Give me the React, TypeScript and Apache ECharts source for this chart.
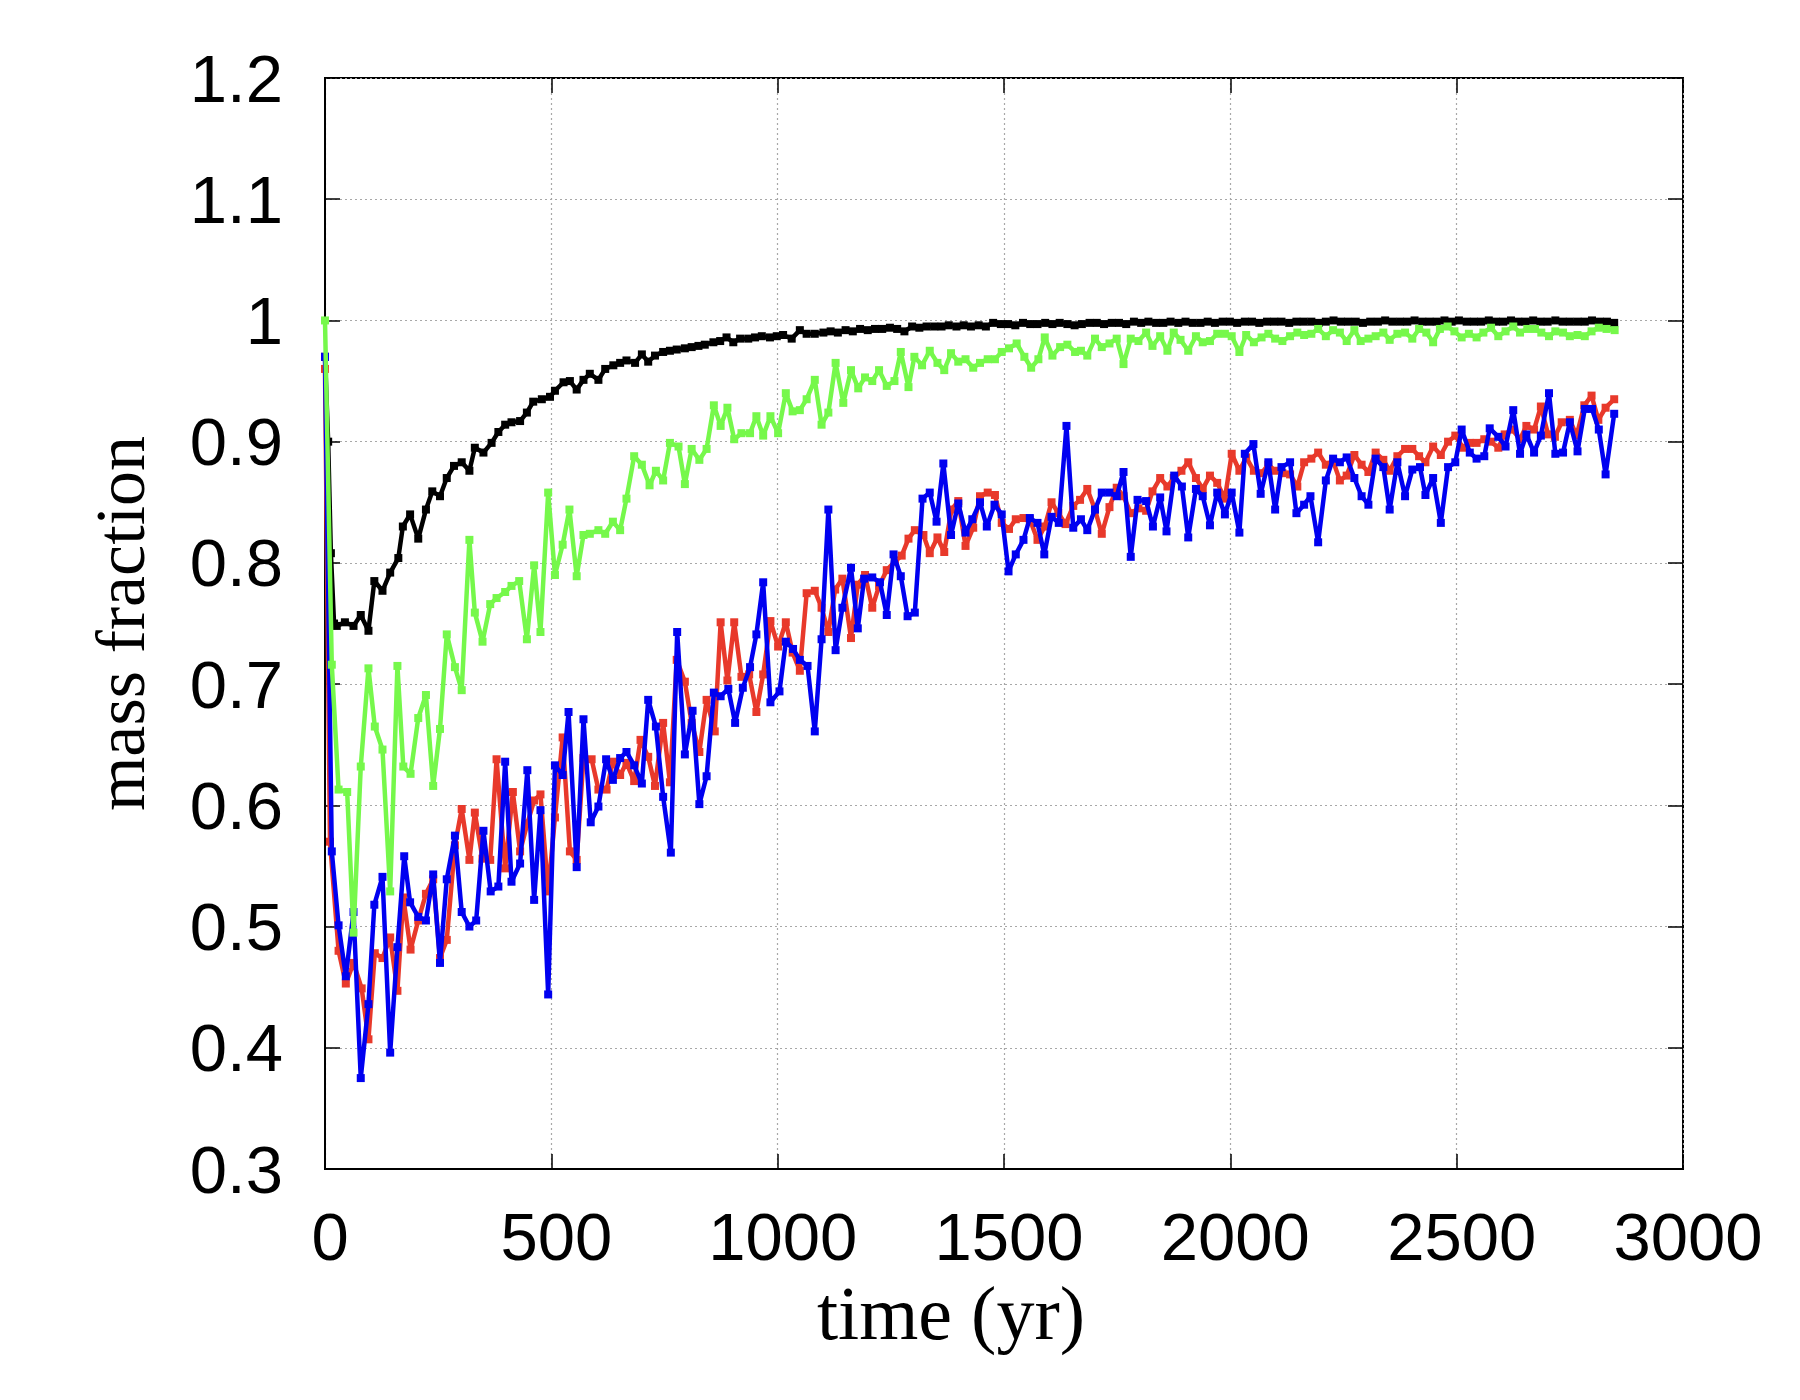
import React, { useEffect, useRef } from "react";
import * as echarts from "echarts";

// Tick values
const xTicks = [0, 500, 1000, 1500, 2000, 2500, 3000];
const yTicks = [0.3, 0.4, 0.5, 0.6, 0.7, 0.8, 0.9, 1.0, 1.1, 1.2];

// Series: [time (yr), mass fraction]
const blackData: number[][] = [
  [0, 0.97], [7, 0.9], [13, 0.808], [20, 0.75], [26, 0.748], [44, 0.751], [63, 0.748], [79, 0.757], [96, 0.744],
  [109, 0.785], [127, 0.777], [144, 0.792], [162, 0.804], [172, 0.83], [188, 0.84], [206, 0.82], [223, 0.844],
  [237, 0.859], [254, 0.855], [269, 0.87], [285, 0.88], [302, 0.883], [319, 0.876], [331, 0.895], [350, 0.891],
  [368, 0.899], [383, 0.908], [398, 0.914], [412, 0.916], [431, 0.917], [446, 0.924], [460, 0.933], [479, 0.935],
  [497, 0.937], [508, 0.942], [527, 0.949], [541, 0.95], [556, 0.943], [571, 0.951], [585, 0.956], [604, 0.951],
  [619, 0.96], [637, 0.963], [652, 0.965], [666, 0.967], [685, 0.965], [700, 0.972], [714, 0.966], [729, 0.971],
  [747, 0.974], [762, 0.975], [777, 0.976], [795, 0.977], [810, 0.978], [825, 0.979], [839, 0.98], [858, 0.982],
  [873, 0.983], [887, 0.986], [902, 0.982], [917, 0.985], [935, 0.985], [950, 0.986], [965, 0.987], [983, 0.986],
  [998, 0.987], [1012, 0.988], [1031, 0.985], [1049, 0.992], [1064, 0.989], [1082, 0.989],
  [1101, 0.99], [1117, 0.991], [1133, 0.99], [1150, 0.992], [1166, 0.991], [1182, 0.993], [1199, 0.992],
  [1215, 0.993], [1231, 0.993], [1248, 0.994], [1264, 0.993], [1280, 0.991], [1297, 0.995], [1313, 0.994],
  [1329, 0.995], [1346, 0.995], [1362, 0.995], [1378, 0.996], [1395, 0.995], [1411, 0.996], [1427, 0.995],
  [1444, 0.996], [1460, 0.995], [1476, 0.998], [1493, 0.997], [1509, 0.997], [1525, 0.996], [1542, 0.998],
  [1558, 0.997], [1574, 0.997], [1591, 0.998], [1607, 0.997], [1623, 0.998], [1640, 0.997], [1656, 0.996],
  [1672, 0.997], [1689, 0.998], [1705, 0.998], [1721, 0.997], [1738, 0.998], [1754, 0.998], [1770, 0.997],
  [1787, 0.999], [1803, 0.998], [1819, 0.999], [1836, 0.998], [1852, 0.998], [1868, 0.999], [1885, 0.998],
  [1901, 0.999], [1917, 0.998], [1934, 0.998], [1950, 0.999], [1966, 0.998], [1983, 0.999], [1999, 0.999],
  [2015, 0.998], [2032, 0.999], [2048, 0.999], [2064, 0.998], [2081, 0.999], [2097, 0.999], [2113, 0.999],
  [2130, 0.998], [2146, 0.999], [2162, 0.999], [2179, 0.999], [2195, 0.998], [2211, 0.999], [2228, 1.0],
  [2244, 0.999], [2260, 0.999], [2277, 0.999], [2293, 0.998], [2309, 0.999], [2326, 0.999], [2342, 1.0],
  [2358, 0.999], [2375, 0.999], [2391, 0.999], [2407, 1.0], [2424, 0.999], [2440, 0.999], [2456, 0.999],
  [2473, 1.0], [2489, 0.999], [2505, 1.0], [2522, 0.999], [2538, 0.999], [2554, 0.999], [2571, 1.0],
  [2587, 0.999], [2603, 0.999], [2620, 1.0], [2636, 0.999], [2652, 0.999], [2669, 1.0], [2685, 0.999],
  [2701, 0.999], [2718, 1.0], [2734, 0.999], [2750, 0.999], [2767, 0.999], [2783, 0.999], [2799, 1.0],
  [2816, 0.999], [2832, 0.999], [2848, 0.998],
];

const greenData: number[][] = [
  [0, 1.0], [15, 0.716], [30, 0.613], [49, 0.611], [63, 0.495], [79, 0.632], [96, 0.713], [110, 0.665],
  [127, 0.646], [144, 0.529], [160, 0.715], [173, 0.632], [189, 0.626], [206, 0.672], [223, 0.691], [239, 0.616],
  [254, 0.663], [269, 0.741], [287, 0.714], [302, 0.695], [319, 0.819], [331, 0.759], [348, 0.735], [365, 0.766],
  [379, 0.771], [398, 0.776], [412, 0.781], [429, 0.785], [446, 0.737], [462, 0.798], [476, 0.743], [493, 0.858],
  [508, 0.79], [525, 0.815], [540, 0.844], [556, 0.789], [571, 0.823], [585, 0.824], [604, 0.827], [619, 0.824],
  [636, 0.834], [652, 0.827], [666, 0.853], [683, 0.888], [700, 0.881], [717, 0.864], [731, 0.876], [747, 0.868],
  [762, 0.899], [781, 0.896], [795, 0.865], [810, 0.894], [827, 0.885], [843, 0.894], [859, 0.93], [874, 0.913],
  [889, 0.928], [904, 0.902], [920, 0.907], [939, 0.907], [953, 0.921], [968, 0.905], [984, 0.921], [1001, 0.907],
  [1018, 0.94], [1033, 0.925], [1049, 0.926], [1064, 0.935], [1082, 0.951], [1097, 0.914], [1112, 0.924],
  [1128, 0.965], [1145, 0.932], [1162, 0.959], [1178, 0.944], [1193, 0.953], [1209, 0.95], [1224, 0.959],
  [1241, 0.946], [1258, 0.95], [1272, 0.974], [1289, 0.945], [1302, 0.97], [1319, 0.963], [1336, 0.975],
  [1353, 0.965], [1368, 0.959], [1383, 0.973], [1399, 0.966], [1415, 0.968], [1432, 0.961], [1447, 0.965],
  [1464, 0.968], [1480, 0.968], [1495, 0.974], [1511, 0.977], [1528, 0.981], [1545, 0.97], [1560, 0.961],
  [1576, 0.968], [1590, 0.986], [1607, 0.971], [1624, 0.978], [1640, 0.98], [1657, 0.974], [1670, 0.975],
  [1684, 0.971], [1701, 0.985], [1716, 0.978], [1733, 0.981], [1749, 0.985], [1764, 0.964], [1780, 0.985],
  [1797, 0.983], [1814, 0.99], [1828, 0.979], [1845, 0.987], [1861, 0.975], [1875, 0.99], [1890, 0.984],
  [1907, 0.975], [1924, 0.987], [1939, 0.982], [1955, 0.983], [1971, 0.989], [1988, 0.989], [2003, 0.987],
  [2020, 0.974], [2035, 0.988], [2052, 0.982], [2069, 0.986], [2084, 0.989], [2099, 0.985], [2115, 0.983],
  [2132, 0.987], [2148, 0.99], [2163, 0.988], [2179, 0.989], [2194, 0.993], [2211, 0.987], [2227, 0.992],
  [2242, 0.99], [2257, 0.983], [2274, 0.992], [2288, 0.983], [2305, 0.985], [2321, 0.987], [2338, 0.99],
  [2352, 0.984], [2369, 0.989], [2386, 0.99], [2402, 0.985], [2417, 0.993], [2433, 0.99], [2448, 0.982],
  [2463, 0.993], [2480, 0.995], [2495, 0.991], [2511, 0.986], [2527, 0.989], [2544, 0.986], [2559, 0.99],
  [2576, 0.994], [2592, 0.987], [2608, 0.991], [2625, 0.995], [2640, 0.99], [2656, 0.993], [2673, 0.993],
  [2687, 0.99], [2704, 0.987], [2718, 0.991], [2735, 0.99], [2750, 0.987], [2767, 0.988], [2783, 0.987],
  [2798, 0.991], [2814, 0.994], [2831, 0.993], [2849, 0.992],
];

const redData: number[][] = [
  [0, 0.96], [11, 0.57], [30, 0.48], [46, 0.453], [63, 0.47], [81, 0.449], [96, 0.407], [110, 0.478], [127, 0.474],
  [144, 0.491], [160, 0.447], [173, 0.524], [189, 0.481], [206, 0.505], [223, 0.527], [239, 0.539], [254, 0.474],
  [269, 0.489], [287, 0.567], [302, 0.597], [319, 0.555], [331, 0.594], [348, 0.556], [365, 0.555], [379, 0.638],
  [398, 0.548], [415, 0.611], [431, 0.562], [447, 0.585], [462, 0.604], [476, 0.609], [493, 0.529], [508, 0.59],
  [525, 0.656], [541, 0.562], [556, 0.555], [571, 0.639], [589, 0.638], [604, 0.613], [622, 0.613], [636, 0.636],
  [652, 0.625], [666, 0.635], [683, 0.62], [697, 0.654], [714, 0.64], [729, 0.616], [747, 0.668], [762, 0.619],
  [777, 0.72], [795, 0.702], [810, 0.668], [827, 0.644], [843, 0.687], [861, 0.661], [874, 0.751], [889, 0.703],
  [904, 0.751], [920, 0.706], [937, 0.708], [953, 0.677], [968, 0.708], [984, 0.752], [1001, 0.731], [1018, 0.751],
  [1033, 0.726], [1049, 0.711], [1064, 0.775], [1082, 0.777], [1097, 0.763], [1112, 0.743], [1127, 0.778],
  [1143, 0.787], [1162, 0.738], [1177, 0.782], [1193, 0.79], [1209, 0.763], [1224, 0.781], [1241, 0.794],
  [1259, 0.801], [1274, 0.806], [1289, 0.82], [1303, 0.827], [1322, 0.823], [1336, 0.808], [1353, 0.821],
  [1368, 0.809], [1384, 0.844], [1399, 0.851], [1415, 0.814], [1432, 0.829], [1447, 0.855], [1464, 0.858],
  [1480, 0.856], [1495, 0.833], [1511, 0.828], [1526, 0.836], [1543, 0.837], [1557, 0.836], [1574, 0.819],
  [1590, 0.83], [1605, 0.85], [1620, 0.841], [1636, 0.832], [1653, 0.847], [1668, 0.852], [1684, 0.861],
  [1701, 0.844], [1716, 0.824], [1733, 0.846], [1749, 0.862], [1764, 0.855], [1780, 0.841], [1797, 0.845],
  [1814, 0.843], [1828, 0.859], [1845, 0.87], [1861, 0.863], [1875, 0.87], [1892, 0.876], [1907, 0.883],
  [1924, 0.87], [1939, 0.861], [1955, 0.872], [1971, 0.866], [1988, 0.853], [2003, 0.89], [2020, 0.876],
  [2035, 0.887], [2052, 0.876], [2069, 0.874], [2084, 0.881], [2099, 0.876], [2115, 0.874], [2132, 0.873],
  [2148, 0.863], [2163, 0.883], [2179, 0.886], [2194, 0.891], [2211, 0.881], [2227, 0.884], [2242, 0.868],
  [2257, 0.872], [2274, 0.889], [2290, 0.881], [2305, 0.875], [2321, 0.891], [2338, 0.885], [2352, 0.876],
  [2369, 0.888], [2386, 0.894], [2402, 0.894], [2417, 0.888], [2431, 0.883], [2448, 0.896], [2465, 0.889],
  [2481, 0.9], [2497, 0.905], [2514, 0.895], [2529, 0.899], [2544, 0.899], [2561, 0.902], [2576, 0.9],
  [2592, 0.895], [2606, 0.906], [2623, 0.91], [2640, 0.902], [2654, 0.913], [2671, 0.91], [2686, 0.929],
  [2702, 0.906], [2717, 0.904], [2732, 0.916], [2750, 0.918], [2765, 0.905], [2782, 0.93], [2798, 0.938],
  [2813, 0.918], [2829, 0.928], [2848, 0.935],
];

const blueData: number[][] = [
  [0, 0.97], [15, 0.562], [30, 0.501], [46, 0.459], [63, 0.512], [79, 0.375], [96, 0.436], [109, 0.518],
  [127, 0.541], [144, 0.396], [160, 0.483], [175, 0.558], [188, 0.52], [206, 0.508], [223, 0.505], [239, 0.543],
  [254, 0.47], [269, 0.539], [287, 0.575], [302, 0.512], [319, 0.5], [334, 0.505], [350, 0.579], [366, 0.529],
  [383, 0.533], [398, 0.636], [412, 0.537], [431, 0.552], [447, 0.629], [462, 0.522], [476, 0.596], [493, 0.444],
  [508, 0.633], [525, 0.625], [538, 0.677], [556, 0.549], [571, 0.671], [587, 0.586], [604, 0.599], [621, 0.638],
  [636, 0.621], [652, 0.639], [666, 0.644], [683, 0.633], [700, 0.618], [714, 0.687], [731, 0.665], [747, 0.607],
  [764, 0.561], [778, 0.743], [795, 0.642], [812, 0.678], [827, 0.601], [843, 0.624], [859, 0.693], [874, 0.69],
  [891, 0.696], [906, 0.668], [923, 0.697], [939, 0.714], [953, 0.741], [968, 0.784], [984, 0.685], [1004, 0.694],
  [1018, 0.735], [1034, 0.729], [1049, 0.72], [1066, 0.715], [1082, 0.661], [1097, 0.737], [1112, 0.844],
  [1128, 0.728], [1143, 0.763], [1162, 0.796], [1177, 0.746], [1191, 0.787], [1209, 0.788], [1226, 0.784],
  [1241, 0.757], [1256, 0.807], [1272, 0.789], [1287, 0.756], [1303, 0.759], [1320, 0.853], [1336, 0.858],
  [1351, 0.834], [1366, 0.882], [1383, 0.823], [1399, 0.849], [1415, 0.825], [1430, 0.836], [1447, 0.85],
  [1462, 0.83], [1479, 0.848], [1495, 0.84], [1510, 0.793], [1526, 0.807], [1543, 0.819], [1557, 0.837],
  [1574, 0.833], [1589, 0.807], [1605, 0.838], [1621, 0.833], [1638, 0.913], [1653, 0.829], [1670, 0.836],
  [1684, 0.827], [1701, 0.844], [1716, 0.858], [1733, 0.858], [1749, 0.855], [1764, 0.875], [1780, 0.805],
  [1795, 0.852], [1814, 0.851], [1829, 0.83], [1845, 0.854], [1859, 0.826], [1876, 0.872], [1893, 0.863],
  [1907, 0.821], [1924, 0.861], [1939, 0.855], [1955, 0.831], [1971, 0.858], [1988, 0.84], [2003, 0.858],
  [2020, 0.825], [2032, 0.89], [2051, 0.898], [2067, 0.857], [2084, 0.883], [2099, 0.844], [2113, 0.879],
  [2132, 0.883], [2146, 0.841], [2163, 0.848], [2177, 0.855], [2194, 0.817], [2211, 0.868], [2227, 0.886],
  [2242, 0.883], [2257, 0.887], [2274, 0.87], [2290, 0.855], [2305, 0.848], [2321, 0.886], [2338, 0.879],
  [2352, 0.844], [2369, 0.883], [2386, 0.855], [2402, 0.877], [2419, 0.879], [2431, 0.856], [2448, 0.87],
  [2465, 0.833], [2481, 0.879], [2497, 0.883], [2511, 0.91], [2529, 0.891], [2544, 0.886], [2561, 0.888],
  [2573, 0.911], [2592, 0.904], [2608, 0.896], [2625, 0.926], [2640, 0.89], [2654, 0.906], [2671, 0.891],
  [2686, 0.905], [2704, 0.94], [2718, 0.89], [2735, 0.891], [2750, 0.916], [2767, 0.892], [2783, 0.927],
  [2799, 0.927], [2814, 0.91], [2829, 0.873], [2848, 0.923],
];

const seriesDefs = [
  { name: "black", data: blackData, color: "#000000" },
  { name: "red", data: redData, color: "#e8392b" },
  { name: "blue", data: blueData, color: "#0000f0" },
  { name: "green", data: greenData, color: "#76f84b" },
];

const labelFont = "'Liberation Sans', Arial, Helvetica, sans-serif";
const titleFont = "'Liberation Serif', 'Times New Roman', serif";

export default function App() {
  const ref = useRef<HTMLDivElement>(null);
  useEffect(() => {
    if (!ref.current) return;
    const chart = echarts.init(ref.current, null, { renderer: "svg" });
    const gridLine = { show: true, lineStyle: { color: "#a8a8a8", width: 1.2, type: [2, 3] as any } };
    const tick = { show: true, inside: true, length: 15, lineStyle: { color: "#000", width: 1.5 } };
    const option: any = {
      animation: false,
      backgroundColor: "#ffffff",
      grid: {
        left: 325, right: 117, top: 78, bottom: 231,
        show: true, borderColor: "#000", borderWidth: 2, backgroundColor: "transparent",
      },
      xAxis: [
        {
          type: "value", min: xTicks[0], max: xTicks[xTicks.length - 1], interval: 500,
          position: "bottom",
          axisLine: { show: true, onZero: false, lineStyle: { color: "#000", width: 2 } },
          axisTick: tick,
          axisLabel: {
            show: true, margin: 34, fontSize: 67, color: "#000", fontFamily: labelFont,
            padding: [0, 0, 0, 10],
            formatter: (v: number) => String(Math.round(v)),
          },
          splitLine: gridLine,
          name: "time (yr)", nameLocation: "middle", nameGap: 106,
          nameTextStyle: { fontFamily: titleFont, fontSize: 76, color: "#000", padding: [0, 106, 0, 0] },
        },
        {
          type: "value", min: xTicks[0], max: xTicks[xTicks.length - 1], interval: 500,
          position: "top",
          axisLine: { show: false, onZero: false },
          axisTick: tick,
          axisLabel: { show: false },
          splitLine: { show: false },
        },
      ],
      yAxis: [
        {
          type: "value", min: yTicks[0], max: yTicks[yTicks.length - 1], interval: 0.1,
          position: "left",
          axisLine: { show: true, onZero: false, lineStyle: { color: "#000", width: 2 } },
          axisTick: tick,
          axisLabel: {
            show: true, margin: 42, fontSize: 67, color: "#000", fontFamily: labelFont,
            padding: [0, 0, 12, 0],
            formatter: (v: number) => {
              const r = Math.round(v * 10) / 10;
              return r === 1 ? "1" : r.toFixed(1);
            },
          },
          splitLine: gridLine,
          name: "mass fraction", nameLocation: "middle", nameGap: 160, nameRotate: 90,
          nameTextStyle: { fontFamily: titleFont, fontSize: 70, color: "#000", padding: [0, 0, 10, 0] },
        },
        {
          type: "value", min: yTicks[0], max: yTicks[yTicks.length - 1], interval: 0.1,
          position: "right",
          axisLine: { show: false, onZero: false },
          axisTick: tick,
          axisLabel: { show: false },
          splitLine: { show: false },
        },
      ],
      series: seriesDefs.map((s, i) => ({
        name: s.name,
        type: "line",
        xAxisIndex: 0,
        yAxisIndex: 0,
        data: s.data,
        showSymbol: true,
        showAllSymbol: true,
        symbol: "rect",
        symbolSize: 8,
        z: 2 + i,
        lineStyle: { color: s.color, width: 4.5 },
        itemStyle: { color: s.color, borderWidth: 0 },
        emphasis: { disabled: true },
      })),
    };
    chart.setOption(option);
    return () => chart.dispose();
  }, []);
  return (
    <div
      ref={ref}
      style={{ position: "fixed", left: 0, top: 0, width: 1800, height: 1400, background: "#fff" }}
    />
  );
}
